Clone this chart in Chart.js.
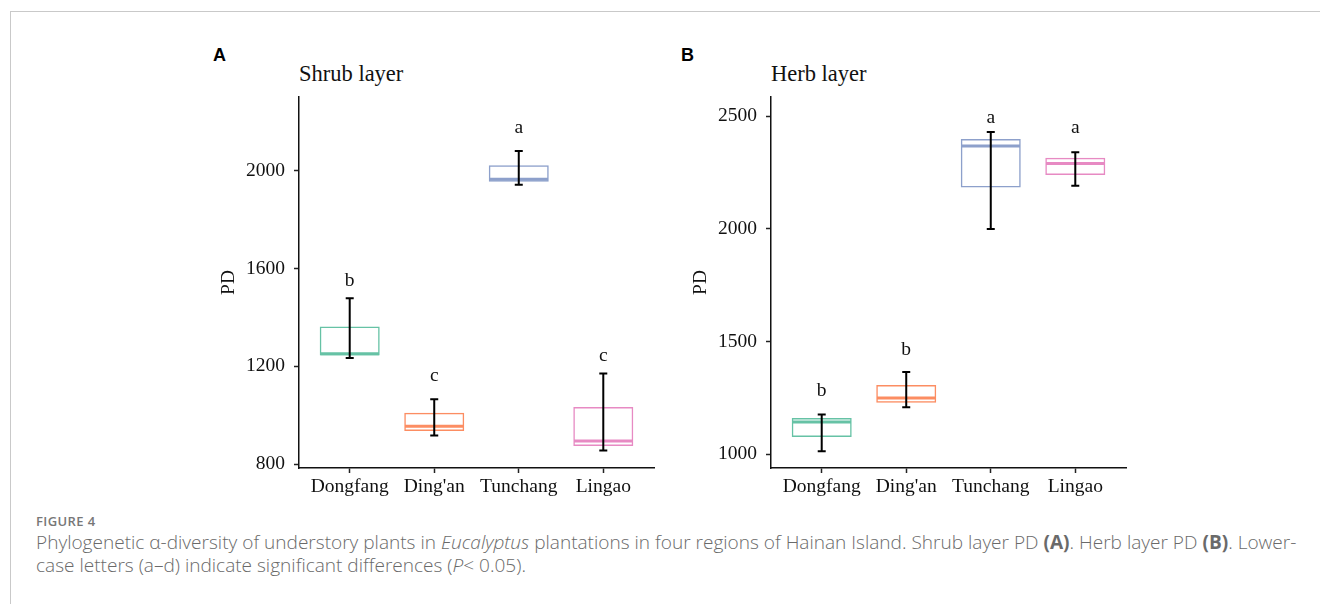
<!DOCTYPE html>
<html>
<head>
<meta charset="utf-8">
<script src="https://cdn.jsdelivr.net/npm/chart.js@4.4.1/dist/chart.umd.min.js"></script>
<style>
  html, body { margin: 0; padding: 0; background: #fff; }
  body { width: 1320px; height: 604px; position: relative; overflow: hidden; }
  .frame { position: absolute; left: 10px; top: 11px; width: 1400px; height: 700px;
           border-top: 1px solid #c9c9c9; border-left: 1px solid #c9c9c9; }
  .tag { position: absolute; font: bold 18px "Liberation Sans", Arial, sans-serif; line-height: 18px; color: #000; }
  .ptitle { position: absolute; font: 22.5px "Liberation Serif", "Times New Roman", serif; line-height: 22.5px;
            color: #111; white-space: nowrap; }
  .plot { position: absolute; }
  .cap-head { position: absolute; left: 36px; font: 600 13px "Open Sans", sans-serif; line-height: 16px;
              color: #777; letter-spacing: 0.4px; white-space: nowrap; }
  .cap { position: absolute; left: 36px; font: 300 15px "Open Sans", sans-serif; line-height: 20px; color: #6a6a6a;
         white-space: nowrap; }
  .cap b { font-weight: 700; }
</style>
</head>
<body>
<div class="frame"></div>

<div class="tag" style="left:213px; top:46px;">A</div>
<div class="tag" style="left:681px; top:46px;">B</div>
<div class="ptitle" style="left:299px; top:63px;">Shrub layer</div>
<div class="ptitle" style="left:771px; top:63px;">Herb layer</div>

<canvas id="shrub" class="plot" width="470" height="460" style="left:200px; top:40px;"></canvas>
<canvas id="herb" class="plot" width="470" height="460" style="left:670px; top:40px;"></canvas>

<div class="cap-head" style="top:513px;">FIGURE 4</div>
<div class="cap" id="capLine1" style="top:532px;">Phylogenetic α-diversity of understory plants in <i>Eucalyptus</i> plantations in four regions of Hainan Island. Shrub layer PD <b>(A)</b>. Herb layer PD <b>(B)</b>. Lower-</div>
<div class="cap" id="capLine2" style="top:555px;">case letters (a–d) indicate significant differences (<i>P</i>&lt; 0.05).</div>

<script>
// Regions and their fill colours
const regions = ['Dongfang', "Ding'an", 'Tunchang', 'Lingao'];
const regionColors = ['#66C2A5', '#FC8D62', '#8DA0CB', '#E78AC3'];

// Shrub layer PD
const shrubQ1     = [1244,  935, 1954,  874];
const shrubMedian = [1251,  955, 1965,  894];
const shrubQ3     = [1363, 1010, 2022, 1033];
const shrubLow    = [1234,  917, 1942,  856];
const shrubHigh   = [1478, 1065, 2080, 1170];
const shrubLetters  = ['b', 'c', 'a', 'c'];
const shrubLetterAt = [1528, 1141, 2153, 1223];
const shrubTicks  = [800, 1200, 1600, 2000];

// Herb layer PD
const herbQ1     = [1076, 1228, 2184, 2239];
const herbMedian = [1142, 1249, 2368, 2291];
const herbQ3     = [1160, 1307, 2399, 2316];
const herbLow    = [1012, 1208, 2000, 2192];
const herbHigh   = [1176, 1364, 2430, 2341];
const herbLetters  = ['b', 'b', 'a', 'a'];
const herbLetterAt = [1257, 1442, 2469, 2424];
const herbTicks  = [1000, 1500, 2000, 2500];

const serif = '"Liberation Serif", "Times New Roman", serif';

// Draws median lines, error bars and significance letters on top of the boxes
function boxExtras(median, low, high, letters, letterAt) {
  return {
    id: 'boxExtras',
    afterDatasetsDraw(chart) {
      const ctx = chart.ctx;
      const y = chart.scales.y;
      const meta = chart.getDatasetMeta(0);
      meta.data.forEach((bar, i) => {
        const half = bar.width / 2;
        ctx.save();
        // median
        const ym = y.getPixelForValue(median[i]);
        ctx.strokeStyle = regionColors[i];
        ctx.lineWidth = 3;
        ctx.beginPath();
        ctx.moveTo(bar.x - half + 0.75, ym);
        ctx.lineTo(bar.x + half - 0.75, ym);
        ctx.stroke();
        // error bar
        const yl = y.getPixelForValue(low[i]);
        const yh = y.getPixelForValue(high[i]);
        ctx.strokeStyle = '#000';
        ctx.lineWidth = 2;
        ctx.beginPath();
        ctx.moveTo(bar.x, yl); ctx.lineTo(bar.x, yh);
        ctx.moveTo(bar.x - 4, yl); ctx.lineTo(bar.x + 4, yl);
        ctx.moveTo(bar.x - 4, yh); ctx.lineTo(bar.x + 4, yh);
        ctx.stroke();
        // letter
        ctx.fillStyle = '#111';
        ctx.font = '19.5px ' + serif;
        ctx.textAlign = 'center';
        ctx.textBaseline = 'alphabetic';
        ctx.fillText(letters[i], bar.x, y.getPixelForValue(letterAt[i]));
        ctx.restore();
      });
    }
  };
}

function buildPanel(id, p) {
  new Chart(document.getElementById(id), {
    type: 'bar',
    data: {
      datasets: [{
        data: regions.map((r, i) => ({ x: i, y: [p.q1[i], p.q3[i]] })),
        backgroundColor: 'rgba(255,255,255,0)',
        borderColor: regionColors,
        borderWidth: 1.5,
        borderSkipped: false,
        barPercentage: 0.71,
        categoryPercentage: 1
      }]
    },
    options: {
      responsive: false,
      animation: false,
      devicePixelRatio: 1,
      layout: { padding: { top: 57, right: p.padRight, left: 0, bottom: 0 } },
      plugins: { legend: { display: false }, tooltip: { enabled: false } },
      scales: {
        x: {
          type: 'linear', min: -0.6, max: 3.6, offset: false,
          afterBuildTicks: s => { s.ticks = regions.map((r, i) => ({ value: i })); },
          ticks: { callback: v => regions[v], font: { family: serif, size: 19.5 }, color: '#111',
                   padding: 2, autoSkip: false, maxRotation: 0 },
          grid: { drawOnChartArea: false, drawTicks: true, tickLength: 5, tickColor: '#222', tickWidth: 1.5, offset: false },
          border: { display: true, color: '#111', width: 1.5 },
          afterFit: s => { s.height = 32; }
        },
        y: {
          min: p.min, max: p.max,
          afterBuildTicks: s => { s.ticks = p.ticks.map(v => ({ value: v })); },
          ticks: { callback: v => String(v), font: { family: serif, size: 19.5 }, color: '#111', padding: 9 },
          grid: { drawOnChartArea: false, drawTicks: true, tickLength: 5, tickColor: '#222', tickWidth: 1.5 },
          border: { display: true, color: '#111', width: 1.5 },
          title: { display: true, text: 'PD', font: { family: serif, size: 19.5 }, color: '#111',
                   padding: { top: p.titlePad, bottom: 0 } },
          afterFit: s => { s.width = p.axisWidth; }
        }
      }
    },
    plugins: [boxExtras(p.median, p.low, p.high, p.letters, p.letterAt)]
  });
}

buildPanel('shrub', {
  q1: shrubQ1, q3: shrubQ3, median: shrubMedian, low: shrubLow, high: shrubHigh,
  letters: shrubLetters, letterAt: shrubLetterAt, ticks: shrubTicks,
  min: 784, max: 2301, axisWidth: 99, padRight: 16, titlePad: 17
});

buildPanel('herb', {
  q1: herbQ1, q3: herbQ3, median: herbMedian, low: herbLow, high: herbHigh,
  letters: herbLetters, letterAt: herbLetterAt, ticks: herbTicks,
  min: 938, max: 2586, axisWidth: 101, padRight: 14, titlePad: 19
});

// Caption: fit the first line to the text block width
(function fitCaption() {
  const l1 = document.getElementById('capLine1');
  const l2 = document.getElementById('capLine2');
  const w = l1.getBoundingClientRect().width;
  const size = 15 * 1261 / w;
  l1.style.fontSize = size + 'px';
  l2.style.fontSize = size + 'px';
})();
</script>
</body>
</html>
